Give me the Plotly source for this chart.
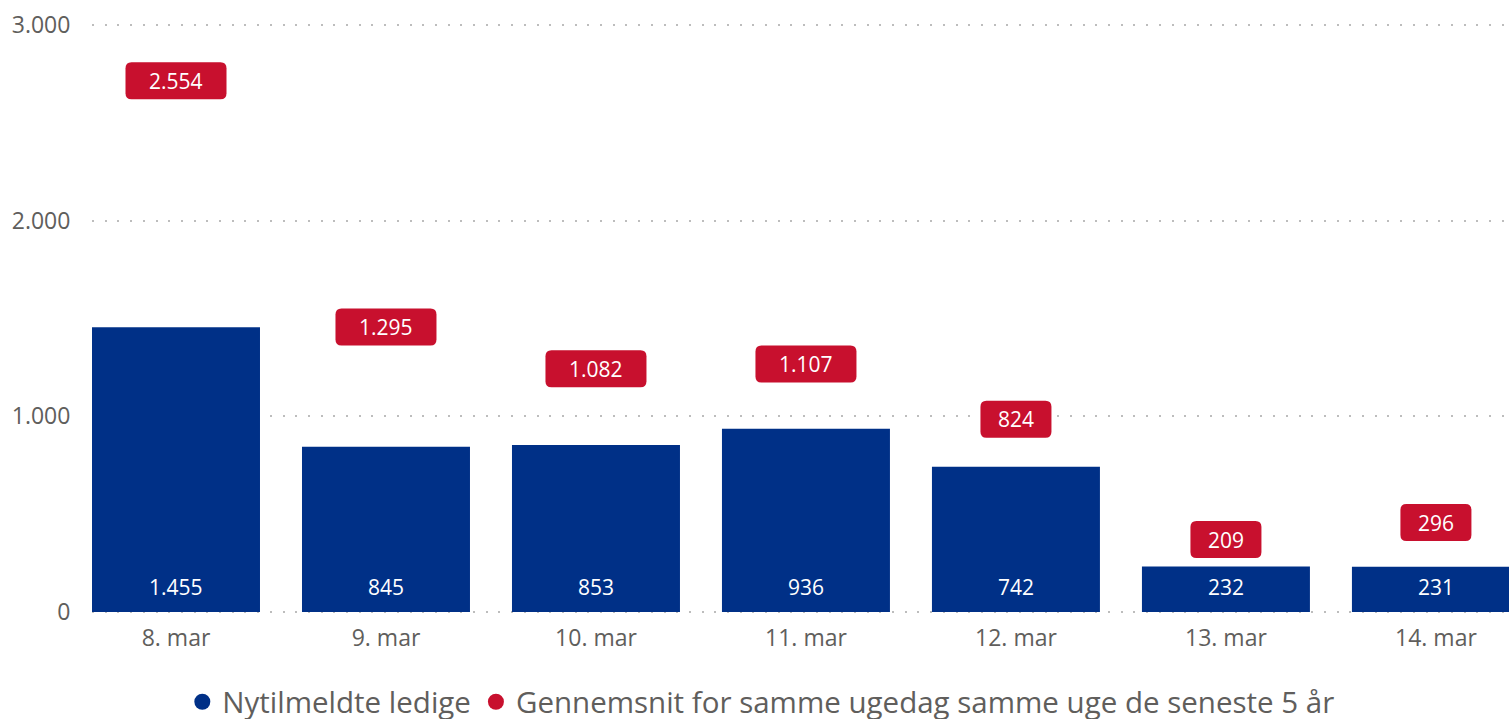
import plotly.graph_objects as go

categories = ["8. mar", "9. mar", "10. mar", "11. mar", "12. mar", "13. mar", "14. mar"]
nytilmeldte = [1455, 845, 853, 936, 742, 232, 231]
gennemsnit = [2554, 1295, 1082, 1107, 824, 209, 296]
y_ticks = [0, 1000, 2000, 3000]
y_tick_labels = ["0", "1.000", "2.000", "3.000"]

BLUE = "#003087"
RED = "#C8102E"
GREY = "#605E5C"
FONT = "Segoe UI, Open Sans, Noto Sans, sans-serif"


def fmt(v):
    return f"{v:,}".replace(",", ".")


x_idx = list(range(len(categories)))

fig = go.Figure()
fig.add_trace(go.Bar(x=x_idx, y=nytilmeldte, marker=dict(color=BLUE, line=dict(width=0)),
                     width=0.8, showlegend=False, hoverinfo="skip"))
fig.add_trace(go.Scatter(x=x_idx, y=gennemsnit, mode="markers",
                         marker=dict(color=RED, opacity=0, size=1), showlegend=False, hoverinfo="skip"))
# legend-only entries with round markers
fig.add_trace(go.Scatter(x=[None], y=[None], mode="markers", name="Nytilmeldte ledige",
                         marker=dict(color=BLUE, size=16, symbol="circle")))
fig.add_trace(go.Scatter(x=[None], y=[None], mode="markers",
                         name="Gennemsnit for samme ugedag samme uge de seneste 5 år",
                         marker=dict(color=RED, size=16, symbol="circle")))


def rounded_rect(w, y0, y1, r):
    x0, x1 = -w / 2, w / 2
    return (f"M {x0 + r},{y0} L {x1 - r},{y0} Q {x1},{y0} {x1},{y0 + r} "
            f"L {x1},{y1 - r} Q {x1},{y1} {x1 - r},{y1} L {x0 + r},{y1} "
            f"Q {x0},{y1} {x0},{y1 - r} L {x0},{y0 + r} Q {x0},{y0} {x0 + r},{y0} Z")


shapes = []
annotations = []
for i, v in zip(x_idx, gennemsnit):
    label = fmt(v)
    w = 15 * len(label) + 26
    shapes.append(dict(type="path", xref="x", yref="y", xsizemode="pixel", ysizemode="pixel",
                       xanchor=i, yanchor=v, path=rounded_rect(w, 13, 50, 6),
                       fillcolor=RED, line=dict(width=0), layer="above"))
    annotations.append(dict(x=i, y=v, xref="x", yref="y", text=label, showarrow=False,
                            yanchor="middle", yshift=31.5,
                            font=dict(family=FONT, size=21, color="white")))

for i, v in zip(x_idx, nytilmeldte):
    annotations.append(dict(x=i, y=0, xref="x", yref="y", text=fmt(v), showarrow=False,
                            yanchor="middle", yshift=25,
                            font=dict(family=FONT, size=21, color="white")))

fig.update_layout(
    width=1509, height=719,
    margin=dict(l=92, r=0, t=23, b=105, autoexpand=False),
    paper_bgcolor="white", plot_bgcolor="white",
    font=dict(family=FONT, color=GREY),
    shapes=shapes,
    annotations=annotations,
    showlegend=True,
    legend=dict(orientation="h", xref="paper", x=0.472, xanchor="center",
                yref="paper", y=-0.149, yanchor="middle",
                font=dict(family=FONT, size=29.5, color=GREY),
                itemwidth=30, tracegroupgap=0, bgcolor="rgba(0,0,0,0)"),
    xaxis=dict(range=[-0.4, 6.348], tickmode="array", tickvals=x_idx, ticktext=categories,
               showgrid=False, zeroline=False, showline=False,
               ticks="outside", ticklen=3, tickcolor="rgba(0,0,0,0)",
               tickfont=dict(family=FONT, size=23, color=GREY), fixedrange=True),
    yaxis=dict(range=[-10.2, 3010.2], tickmode="array", tickvals=y_ticks, ticktext=y_tick_labels,
               showgrid=True, gridcolor="#BDBDBD", gridwidth=2, griddash="2px,10.7px",
               zeroline=False, showline=False,
               ticks="outside", ticklen=16, tickcolor="rgba(0,0,0,0)",
               tickfont=dict(family=FONT, size=23, color=GREY), fixedrange=True),
)

fig.write_html("out.html", config={"displayModeBar": False},
               post_script="document.body.style.margin='0';document.body.style.overflow='hidden';")
